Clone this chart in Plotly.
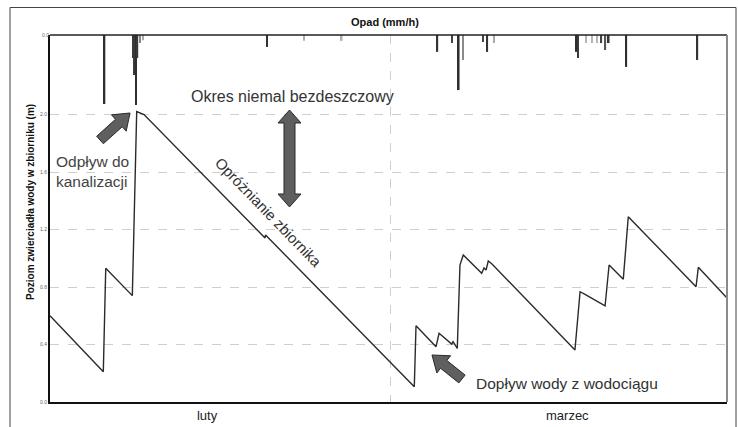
import plotly.graph_objects as go

# ---- data (days from 1 Feb, water level in m) ----
level_days = [0.0, 4.39, 4.59, 6.78, 7.14, 7.45, 7.74, 17.71, 17.75, 30.0, 30.14, 31.79, 32.04,
              33.08, 33.19, 33.54, 33.76, 34.03, 35.55, 35.74, 35.91, 36.09, 36.40, 43.23, 43.65,
              44.06, 45.71, 46.04, 47.21, 47.62, 53.20, 53.39, 55.75]
level_m = [0.60, 0.21, 0.93, 0.74, 2.02, 2.01, 2.00, 1.141, 1.162, 0.106, 0.53, 0.385, 0.478,
           0.403, 0.42, 0.373, 0.953, 1.023, 0.895, 0.932, 0.918, 0.981, 0.96, 0.362, 0.767,
           0.749, 0.668, 0.953, 0.854, 1.289, 0.802, 0.937, 0.723]

rain_days = [4.49, 6.84, 6.96, 7.08, 7.20, 7.41, 7.66, 17.87, 20.92, 24.02, 31.90, 33.10, 33.66,
             34.01, 35.66, 36.01, 36.56, 43.36, 43.48, 44.14, 44.63, 45.05, 45.40, 45.73, 46.01,
             47.46, 53.31]
rain_mmh = [1.88, 0.63, 1.09, 1.91, 0.63, 0.22, 0.14, 0.33, 0.16, 0.16, 0.46, 0.22, 1.50,
            0.68, 0.19, 0.46, 0.22, 0.46, 0.63, 0.22, 0.22, 0.22, 0.22, 0.41, 0.22,
            0.87, 0.68]
rain_shade = ["#2e2e2e", "#3a3a3a", "#3a3a3a", "#2e2e2e", "#3a3a3a", "#888888", "#aaaaaa",
              "#333333", "#b0b0b0", "#b0b0b0", "#333333", "#444444", "#2e2e2e",
              "#8a8a8a", "#444444", "#333333", "#aaaaaa", "#2e2e2e", "#3a3a3a", "#b5b5b5",
              "#b5b5b5", "#b5b5b5", "#444444", "#555555", "#333333", "#2e2e2e", "#333333"]

month_labels = ["luty", "marzec"]
month_label_pos = [12.93, 42.6]
month_boundary = [28]
y_ticks = [0.0, 0.4, 0.8, 1.2, 1.6, 2.0]

W, H = 738, 427
L, R, T, B = 50, 727, 35, 402


def px(x):
    return (x - L) / (R - L)


def py(y):
    return (B - y) / (B - T)


def arrow_path(tail, tip, sw, hw, hl, double=False):
    import math
    tx, ty = tail
    qx, qy = tip
    d = math.hypot(qx - tx, qy - ty)
    ux, uy = (qx - tx) / d, (qy - ty) / d
    nx, ny = -uy, ux
    bx, by = qx - ux * hl, qy - uy * hl
    pts = []
    if double:
        cx, cy = tx + ux * hl, ty + uy * hl
        pts += [(cx - nx * hw, cy - ny * hw), (tx, ty), (cx + nx * hw, cy + ny * hw),
                (cx + nx * sw, cy + ny * sw)]
    else:
        pts += [(tx - nx * sw, ty - ny * sw), (tx + nx * sw, ty + ny * sw)]
    pts += [(bx + nx * sw, by + ny * sw), (bx + nx * hw, by + ny * hw), (qx, qy),
            (bx - nx * hw, by - ny * hw), (bx - nx * sw, by - ny * sw)]
    if double:
        pts += [(cx - nx * sw, cy - ny * sw)]
    return "M " + " L ".join(f"{px(a):.5f},{py(b):.5f}" for a, b in pts) + " Z"


fig = go.Figure()
fig.add_trace(go.Scatter(x=level_days, y=level_m, mode="lines",
                         line=dict(color="#2a2a2a", width=1.4), hoverinfo="skip"))
fig.add_trace(go.Bar(x=rain_days, y=rain_mmh, yaxis="y2", width=0.13,
                     marker=dict(color=rain_shade, line=dict(width=0)), hoverinfo="skip"))

fig.update_layout(
    width=W, height=H, showlegend=False,
    margin=dict(l=L, r=W - R, t=T, b=H - B, autoexpand=False),
    paper_bgcolor="white", plot_bgcolor="white",
    font=dict(family="Liberation Sans, Arial, sans-serif", color="#333"),
    xaxis=dict(range=[0, 55.75], tickmode="array", tickvals=month_label_pos,
               ticktext=month_labels, ticks="", showgrid=False, zeroline=False,
               showline=True, linecolor="#111", linewidth=2, automargin=False,
               tickfont=dict(size=13, color="#222"),
               minor=dict(tickmode="array", tickvals=month_boundary, showgrid=True,
                          gridcolor="#cfcfcf", griddash="dash", gridwidth=1, ticks="")),
    yaxis=dict(range=[0, 2.553], tickmode="array", tickvals=y_ticks,
               ticktext=[f"{v:.1f}" for v in y_ticks], ticks="", showgrid=True,
               gridcolor="#cfcfcf", griddash="dash", gridwidth=1, zeroline=False,
               showline=True, linecolor="#111", linewidth=2, automargin=False,
               tickfont=dict(size=5, color="#666")),
    yaxis2=dict(range=[10, 0], overlaying="y", side="left", showgrid=False,
                zeroline=False, showline=False, tickmode="array", tickvals=[0],
                automargin=False,
                ticktext=["0.0"], ticks="", tickfont=dict(size=5, color="#666")),
)

shapes = [
    dict(type="line", xref="paper", yref="paper", x0=0, x1=1, y0=1, y1=1,
         line=dict(color="#222", width=1.5)),
    dict(type="line", xref="paper", yref="paper", x0=1, x1=1, y0=0, y1=1,
         line=dict(color="#8a8a8a", width=2)),
    dict(type="rect", xref="paper", yref="paper", x0=px(10), x1=px(736), y0=py(440), y1=py(7.5),
         line=dict(color="#444", width=1)),
    dict(type="path", xref="paper", yref="paper",
         path=arrow_path((289.5, 110), (289.5, 207), 5.5, 11.5, 13, double=True),
         fillcolor="#5f5f5f", line=dict(color="#2a2a2a", width=1)),
    dict(type="path", xref="paper", yref="paper",
         path=arrow_path((100, 140), (130, 113), 5, 11, 15),
         fillcolor="#5f5f5f", line=dict(color="#2a2a2a", width=1)),
    dict(type="path", xref="paper", yref="paper",
         path=arrow_path((462, 379), (432, 355), 5, 11, 15),
         fillcolor="#5f5f5f", line=dict(color="#2a2a2a", width=1)),
]
fig.update_layout(shapes=shapes)

ann = [
    dict(text="<b>Opad (mm/h)</b>", x=px(385), y=py(22), size=11, color="#111", angle=0),
    dict(text="<b>Poziom zwierciadła wody w zbiorniku (m)</b>", x=px(31), y=py(202), size=10,
         color="#111", angle=-90),
    dict(text="Okres niemal bezdeszczowy", x=px(292), y=py(96), size=16, color="#333", angle=0),
    dict(text="Odpływ do<br>kanalizacji", x=px(92), y=py(171.5), size=15.5, color="#444", angle=0),
    dict(text="Opróżnianie zbiornika", x=px(269), y=py(212), size=15, color="#333", angle=46),
    dict(text="Dopływ wody z wodociągu", x=px(567), y=py(383), size=15.5, color="#333", angle=0),
]
fig.update_layout(annotations=[
    dict(text=a["text"], x=a["x"], y=a["y"], xref="paper", yref="paper", showarrow=False,
         xanchor="center", yanchor="middle", textangle=a["angle"], align="left",
         font=dict(size=a["size"], color=a["color"])) for a in ann
])

fig.write_html("out.html", config={"displayModeBar": False},
               post_script="document.body.style.margin='0';document.body.style.padding='0';")
